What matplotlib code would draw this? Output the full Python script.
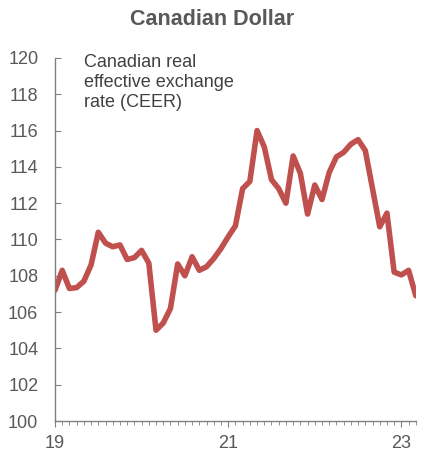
import matplotlib
matplotlib.use("Agg")
import matplotlib.pyplot as plt
import numpy as np
from matplotlib.ticker import MultipleLocator, FixedLocator

plt.rcParams['font.family'] = ['Liberation Sans', 'DejaVu Sans']

# Monthly CEER, Jan 2019 (month 0) to Mar 2023 (month 50)
months = list(range(51))
ceer = [107.2, 108.3, 107.3, 107.35, 107.7, 108.6, 110.4, 109.8, 109.6, 109.7,
        108.9, 109.0, 109.4, 108.7, 105.0, 105.4, 106.2, 108.65, 108.0, 109.05,
        108.3, 108.5, 108.95, 109.5, 110.15, 110.75, 112.8, 113.2, 116.0, 115.1,
        113.3, 112.8, 112.0, 114.6, 113.65, 111.4, 113.0, 112.2, 113.7, 114.55,
        114.8, 115.25, 115.5, 114.9, 112.8, 110.7, 111.45, 108.2, 108.05, 108.3,
        106.9]
year_ticks = [0, 24, 48]
year_labels = ["19", "21", "23"]

grey = '#595959'
fig = plt.figure(figsize=(4.24, 4.51), dpi=100)
ax = fig.add_axes([0.1297, 0.0665, 0.851, 0.805])
ax.plot(months, ceer, color='#C0504D', lw=4.0, solid_joinstyle='round', solid_capstyle='round')

ax.set_xlim(0, 50)
ax.set_ylim(100, 120)
ax.yaxis.set_major_locator(MultipleLocator(2))
ax.xaxis.set_major_locator(FixedLocator(year_ticks))
ax.set_xticklabels(year_labels)
ax.xaxis.set_minor_locator(MultipleLocator(1))

for s in ['top', 'right']:
    ax.spines[s].set_visible(False)
for s in ['left', 'bottom']:
    ax.spines[s].set_color('#808080')
    ax.spines[s].set_linewidth(1.0)

ax.tick_params(axis='y', direction='in', length=4, color='#808080', labelsize=13,
               labelcolor=grey, pad=12)
ax.tick_params(axis='x', which='major', direction='out', length=4, color='#808080',
               labelsize=13, labelcolor=grey, pad=6)
ax.tick_params(axis='x', which='minor', direction='out', length=3, color='#808080')

ax.text(0.08, 1.01, "Canadian real\neffective exchange\nrate (CEER)", transform=ax.transAxes,
        ha='left', va='top', fontsize=13, color='#404040', linespacing=1.2)

fig.text(0.5, 0.957, "Canadian Dollar", ha='center', va='center', fontsize=15.5,
         fontweight='bold', color=grey)

fig.savefig('out.png', dpi=100)
